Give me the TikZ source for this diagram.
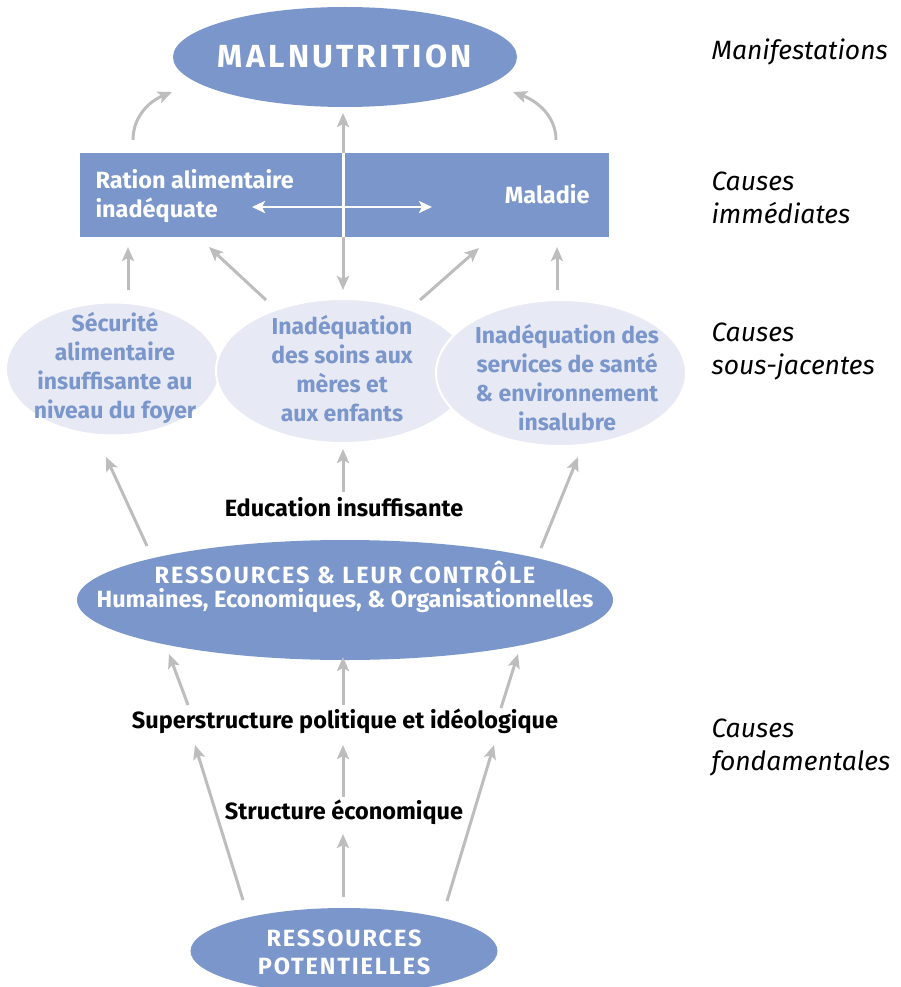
\documentclass[tikz,border=0pt]{standalone}
\usepackage{fontspec}
\setmainfont{Fira Sans}
\newfontfamily\capsA[LetterSpace=10]{Fira Sans}
\newfontfamily\capsB[LetterSpace=8]{Fira Sans}
\usetikzlibrary{shapes.geometric,arrows.meta}
\definecolor{bl}{HTML}{7A96CB}
\definecolor{lav}{HTML}{E7E9F4}
\definecolor{arr}{HTML}{BDBDBD}
\begin{document}
\begin{tikzpicture}[x=1pt,y=-1pt,
  garrow/.style={draw=arr, line width=3pt, -{Stealth[length=14pt,width=12pt,inset=3pt]}},
  bigell/.style={ellipse, fill=bl, inner sep=0pt},
  oval/.style={ellipse, fill=lav, draw=white, line width=2pt, inner sep=0pt},
  ovaltext/.style={text=bl, align=center, font=\fontsize{23}{29}\selectfont\bfseries},
  wtext/.style={text=white, font=\fontsize{23.5}{29}\selectfont\bfseries},
  btext/.style={text=black, font=\fontsize{23.5}{26}\selectfont\bfseries},
  side/.style={text=black, align=left, anchor=west, font=\fontsize{26.5}{33}\selectfont\itshape}]
\useasboundingbox (0,0) rectangle (901,987);

% top ellipse
\node[bigell, minimum width=344pt, minimum height=100pt] (mal) at (345,57) {};
\node[text=white, font=\fontsize{32}{36}\capsA\bfseries] (maltxt) at (345,56) {MALNUTRITION};

% immediate causes rectangle
\node[rectangle, fill=bl, minimum width=529pt, minimum height=84pt, inner sep=0pt] (rect) at (344.5,195) {};
\node[wtext, align=left, anchor=west] (ration) at (92,196) {Ration alimentaire\\inadéquate};
\node[wtext, anchor=east] (maladie) at (593,194) {Maladie};

% underlying causes ovals
\node[oval, minimum width=214pt, minimum height=133pt] (secov) at (113,369) {};
\node[oval, minimum width=254pt, minimum height=144pt] (soinov) at (343,371) {};
\node[oval, minimum width=250pt, minimum height=146pt] (servov) at (561,373) {};
\node[ovaltext] (sec) at (115,368) {Sécurité\\alimentaire\\insuffisante au\\niveau du foyer};
\node[ovaltext] (soin) at (342,369) {Inadéquation\\des soins aux\\mères et\\aux enfants};
\node[ovaltext] (serv) at (567,378) {Inadéquation des\\services de santé\\\& environnement\\insalubre};

% resources
\node[bigell, minimum width=536pt, minimum height=120pt] (res) at (345,600) {};
\node[wtext, align=center] (restxt1) at (345,573) {\capsB\bfseries RESSOURCES \& LEUR CONTRÔLE};
\node[wtext, align=center] (restxt2) at (345,601) {Humaines, Economiques, \& Organisationnelles};

\node[btext] (edu) at (344,507) {Education insuffisante};
\node[btext] (sup) at (345,721) {Superstructure politique et idéologique};
\node[btext] (eco) at (344,812) {Structure économique};

% potential resources
\node[bigell, minimum width=307pt, minimum height=86pt] (pot) at (344,951) {};
\node[wtext, align=center, font=\fontsize{23.5}{28}\capsB\bfseries] (pottxt) at (344,952) {RESSOURCES\\POTENTIELLES};

% side labels
\node[side] (l1) at (708,52) {Manifestations};
\node[side] (l2) at (708,198) {Causes\\immédiates};
\node[side] (l3) at (708,352) {Causes\\sous-jacentes};
\node[side] (l4) at (708,748) {Causes\\fondamentales};

% coordinates for connector ends
\coordinate (a1s) at (133,140); \coordinate (a1e) at (172,92);
\coordinate (a2s) at (556,140); \coordinate (a2e) at (513,92);
\coordinate (vt) at (343,113); \coordinate (vb) at (343,290);
\coordinate (hl) at (252,207); \coordinate (hr) at (432,207);

% curved arrows to malnutrition
\draw[garrow] (a1s) .. controls (133,116) and (150,101) .. (a1e);
\draw[garrow] (a2s) .. controls (556,116) and (537,101) .. (a2e);

% vertical double arrow
\draw[draw=arr, line width=3pt, {Stealth[length=14pt,width=12pt,inset=3pt]}-{Stealth[length=14pt,width=12pt,inset=3pt]}] (vb) -- (vt);
\draw[white, line width=3pt] (rect.north -| vt) -- (rect.south -| vt);
% horizontal white double arrow
\draw[white, line width=2.5pt, {Stealth[length=13pt,width=12pt,inset=3pt]}-{Stealth[length=13pt,width=12pt,inset=3pt]}] (hl) -- (hr);

% arrows from ovals to rectangle
\draw[garrow] (128,290) -- (128,247);
\draw[garrow] (266,300) -- (209,247);
\draw[garrow] (420,300) -- (479,248);
\draw[garrow] (557,290) -- (557,247);

% arrows from resources to ovals
\draw[garrow] (147,546) -- (106,457);
\draw[garrow] (343,492) -- (343,449);
\draw[garrow] (541,548) -- (578,457);

% arrows into resources
\draw[garrow] (188,705) -- (169,654);
\draw[garrow] (343,705) -- (343,657);
\draw[garrow] (501,708) -- (518,654);

% arrows from potential resources
\draw[garrow] (243,900) -- (195,745);
\draw[garrow] (343,797) -- (343,745);
\draw[garrow] (343,897) -- (343,834);
\draw[garrow] (447,901) -- (494,745);
\end{tikzpicture}
\end{document}
